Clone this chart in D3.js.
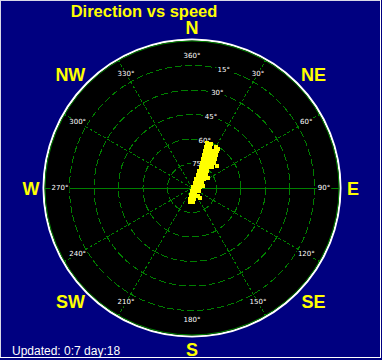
<!DOCTYPE html>
<html>
<head>
<meta charset="utf-8">
<script src="https://cdn.jsdelivr.net/npm/d3@7"></script>
<style>
  html, body { margin: 0; padding: 0; background: #000080; overflow: hidden; }
  svg { display: block; }
</style>
</head>
<body>
<svg id="chart" width="382" height="361"></svg>
<script>
// ---------------- DATA ----------------

const compassLabels = ["N", "NE", "E", "SE", "S", "SW", "W", "NW"];
const compassAngles = [0, 45, 90, 135, 180, 225, 270, 315];
const azimuthTicks = [30, 60, 90, 120, 150, 180, 210, 240, 270, 300, 330, 360];
const spokeAngles = [30, 60, 120, 150, 210, 240, 300, 330];
const elevationRings = [75, 60, 45, 30, 15];

const directions = [
  18.4, 18.9, 23.7, 30.3, 19.4, 24.7, 29.6, 34.0, 20.0, 25.9, 31.2, 36.0,
  20.8, 27.3, 33.2, 38.4, 21.8, 29.2, 35.8, 41.3, 23.2, 31.8, 39.0, 43.6,
  22.4, 32.9, 41.4, 24.8, 37.6, 47.1, 24.0, 41.6, 53.1, 31.0, 54.5, 63.4,
  45.0, 78.7, 82.9, 180.0, 126.9, 113.2, 188.1, 156.8, 190.3, 169.7, 188.1, 175.9,
  141.3, 33.7, 48.6, 23.4, 79.7, 58.0, 143.1
];
const speeds = [
  29.0, 26.5, 27.4, 29.1, 24.0, 24.9, 26.0, 27.4, 21.5, 22.5, 23.6, 25.0,
  19.0, 20.0, 21.2, 22.7, 16.5, 17.5, 18.9, 20.4, 14.0, 15.1, 16.5, 17.8,
  11.3, 12.4, 13.9, 8.8, 10.0, 11.7, 6.0, 7.4, 9.2, 3.6, 5.3, 6.8,
  0.9, 3.1, 4.9, 1.8, 3.1, 4.7, 4.3, 4.7, 6.8, 6.8, 8.7, 8.6,
  7.8, 28.7, 20.4, 29.3, 6.8, 11.6, 6.1
];

const title = "Direction vs speed";
const footer = "Updated: 0:7 day:18";

// ---------------- LAYOUT ----------------

const cx = 192, cy = 188, R = 147;
const svg = d3.select("#chart");

const rScale = d3.scaleLinear().domain([0, 90]).range([0, R]);   // speed
const eScale = d3.scaleLinear().domain([90, 0]).range([0, R]);   // elevation rings

const px = (a, r) => cx + r * Math.sin(a * Math.PI / 180);
const py = (a, r) => cy - r * Math.cos(a * Math.PI / 180);

// frame
svg.append("rect").attr("width", 382).attr("height", 361).attr("fill", "#000080");
const frame = svg.append("g").attr("shape-rendering", "crispEdges");
frame.append("line").attr("x1", 0.5).attr("x2", 0.5).attr("y1", 0).attr("y2", 358).attr("stroke", "#d8d8e8");
frame.append("line").attr("x1", 0).attr("x2", 381).attr("y1", 0.5).attr("y2", 0.5).attr("stroke", "#d8d8e8");
frame.append("line").attr("x1", 380.5).attr("x2", 380.5).attr("y1", 0).attr("y2", 358).attr("stroke", "#ffffff");
frame.append("line").attr("x1", 0).attr("x2", 381).attr("y1", 357.5).attr("y2", 357.5).attr("stroke", "#ffffff");
frame.append("line").attr("x1", 0).attr("x2", 382).attr("y1", 360.5).attr("y2", 360.5).attr("stroke", "#ffffff");

// title
svg.append("text")
  .attr("x", 144).attr("y", 16.5)
  .attr("text-anchor", "middle")
  .attr("font-family", "Liberation Sans, Arial, sans-serif")
  .attr("font-weight", "bold").attr("font-size", 16.5)
  .attr("fill", "#ffff00")
  .text(title);

// ---------------- POLAR GRID ----------------

const g = svg.append("g");

g.append("circle").attr("cx", cx).attr("cy", cy).attr("r", R + 1.5)
  .attr("fill", "#000").attr("stroke", "#fff").attr("stroke-width", 2);
g.append("circle").attr("cx", cx).attr("cy", cy).attr("r", R)
  .attr("fill", "none").attr("stroke", "#008000").attr("stroke-width", 1);

const grid = g.append("g").attr("shape-rendering", "crispEdges");

grid.selectAll(".ring")
  .data(elevationRings)
  .join("circle")
  .attr("class", "ring")
  .attr("cx", cx).attr("cy", cy)
  .attr("r", d => eScale(d))
  .attr("fill", "none")
  .attr("stroke", "#008000")
  .attr("stroke-dasharray", "7,3");

grid.selectAll(".spoke")
  .data(spokeAngles)
  .join("line")
  .attr("class", "spoke")
  .attr("x1", cx).attr("y1", cy)
  .attr("x2", d => px(d, R)).attr("y2", d => py(d, R))
  .attr("stroke", "#008000")
  .attr("stroke-dasharray", "3,2");

grid.append("line")
  .attr("x1", cx - R).attr("x2", cx + R)
  .attr("y1", cy + 0.5).attr("y2", cy + 0.5)
  .attr("stroke", "#008000");

// small labels with black backing
function smallLabel(x, y, txt) {
  const t = g.append("text")
    .attr("x", x).attr("y", y)
    .attr("text-anchor", "middle")
    .attr("dominant-baseline", "central")
    .attr("font-family", "DejaVu Sans, sans-serif")
    .attr("font-size", 7)
    .attr("fill", "#fff")
    .text(txt);
  const b = t.node().getBBox();
  g.insert("rect", () => t.node())
    .attr("x", b.x - 1).attr("y", b.y)
    .attr("width", b.width + 2).attr("height", b.height)
    .attr("fill", "#000");
}

azimuthTicks.forEach(a => smallLabel(px(a, 132), py(a, 132), a + "°"));
elevationRings.forEach(e => smallLabel(px(15, eScale(e)), py(15, eScale(e)), e + "°"));

// ---------------- POINTS ----------------

const pts = directions.map((d, i) => ({ dir: d, speed: speeds[i] }));

svg.append("g")
  .attr("shape-rendering", "crispEdges")
  .selectAll("rect")
  .data(pts)
  .join("rect")
  .attr("x", d => Math.round(px(d.dir, rScale(d.speed)) - 2))
  .attr("y", d => Math.round(py(d.dir, rScale(d.speed)) - 2))
  .attr("width", 4).attr("height", 4)
  .attr("fill", "#ffff00");

// ---------------- COMPASS + FOOTER ----------------

svg.append("g")
  .selectAll("text")
  .data(compassLabels)
  .join("text")
  .attr("x", (d, i) => px(compassAngles[i], compassAngles[i] % 90 ? 172 : 161))
  .attr("y", (d, i) => cy - 161 * Math.cos(compassAngles[i] * Math.PI / 180) + 6.5)
  .attr("text-anchor", "middle")
  .attr("font-family", "Liberation Sans, Arial, sans-serif")
  .attr("font-weight", "bold")
  .attr("font-size", 18)
  .attr("fill", "#ffff00")
  .text(d => d);

svg.append("text")
  .attr("x", 12).attr("y", 355)
  .attr("font-family", "Liberation Sans, Arial, sans-serif")
  .attr("font-size", 12)
  .attr("fill", "#fff")
  .text(footer);
</script>
</body>
</html>
